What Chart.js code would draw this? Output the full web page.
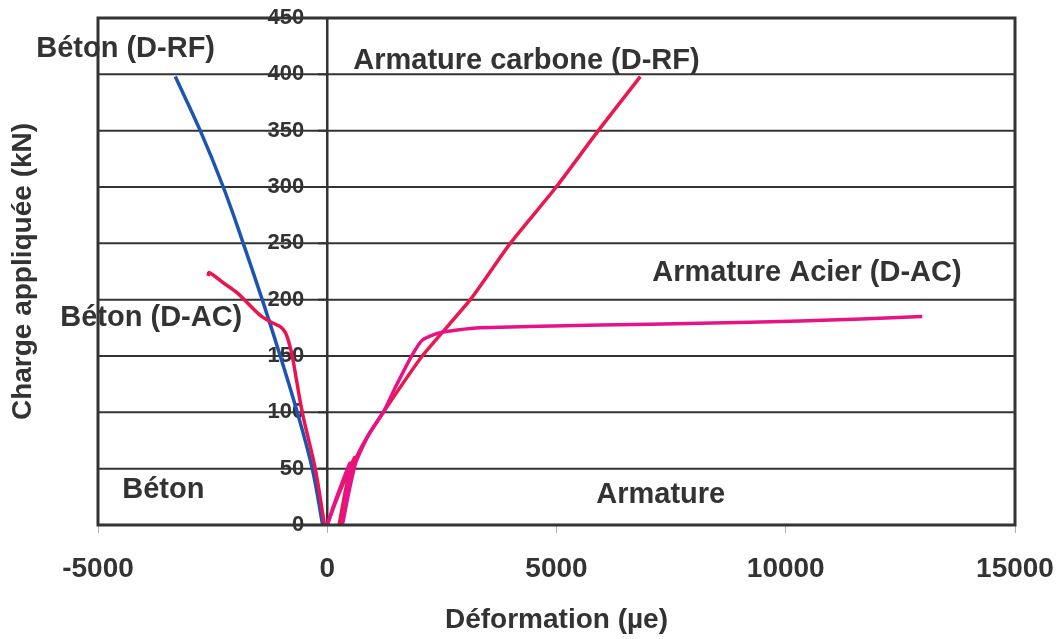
<!DOCTYPE html>
<html lang="fr">
<head>
    <meta charset="UTF-8">
    <title>Charge - Déformation</title>
    <script src="https://cdn.jsdelivr.net/npm/chart.js"></script>
    <style>
        body { margin: 0; background: #fff; }
        .chart-box { width: 1062px; height: 639px; }
    </style>
</head>
<body>
    <div class="chart-box">
        <canvas id="strainChart"></canvas>
    </div>

    <script>
        // Béton (D-RF) - jauge sur le béton, poutre renforcée carbone
        const betonRfX = [-100, -327, -654, -1025, -1418, -1832, -2268, -2770, -3315];
        const betonRfY = [0, 50, 100, 150, 200, 250, 300, 350, 398];

        // Béton (D-AC)
        const betonAcX = [-60, -262, -545, -763, -850, -916, -1025, -1178, -1461, -1963, -2270, -2574, -2600];
        const betonAcY = [0, 50, 100, 150, 164, 171, 176, 179, 186, 206, 215, 224, 221];

        // Armature carbone (D-RF)
        const carboneX = [0, 180, 380, 600, 420, 260, 420, 620, 829, 1221, 2072, 3119, 3991, 4994, 5911, 6827];
        const carboneY = [0, 20, 40, 60, 35, 0, 30, 58, 75, 100, 150, 200, 250, 300, 350, 398];

        // Armature acier (D-AC)
        const acierX = [0, 120, 300, 500, 420, 330, 450, 620, 900, 1221, 1483, 1854, 2072, 2399, 2835, 3337, 5954, 8135, 10316, 12977];
        const acierY = [0, 15, 35, 55, 30, 0, 25, 55, 80, 100, 122, 151, 164, 170, 173, 175, 177.5, 179, 181, 185];

        const xTicks = [-5000, 0, 5000, 10000, 15000];
        const yTicks = [0, 50, 100, 150, 200, 250, 300, 350, 400, 450];

        const noteTexts = ['Béton (D-RF)', 'Armature carbone (D-RF)', 'Armature Acier (D-AC)', 'Béton (D-AC)', 'Béton', 'Armature'];
        const noteX = [-6347, 567, 7088, -5823, -4471, 5867];
        const noteY = [422.5, 412, 223.7, 183.7, 31, 26.6];

        const FONT = "'Liberation Sans', Arial, sans-serif";
        const INK = '#333333';

        function toPoints(xs, ys) {
            return xs.map((x, i) => ({ x: x, y: ys[i] }));
        }

        function line(points, color, width, tension) {
            return {
                data: points,
                showLine: true,
                borderColor: color,
                backgroundColor: color,
                borderWidth: width,
                pointRadius: 0,
                tension: tension,
                fill: false
            };
        }

        // grille horizontale, axe vertical à 0 et étiquettes de l'axe Y
        const axisPlugin = {
            id: 'axisAtZero',
            beforeDatasetsDraw(chart) {
                const { ctx, chartArea, scales } = chart;
                const x0 = scales.x.getPixelForValue(0);
                ctx.save();
                ctx.fillStyle = INK;
                ctx.font = 'bold 22px ' + FONT;
                ctx.textAlign = 'right';
                ctx.textBaseline = 'middle';
                yTicks.forEach(v => {
                    const py = scales.y.getPixelForValue(v);
                    ctx.fillText(String(v), x0 - 23, py);
                });
                ctx.strokeStyle = INK;
                ctx.lineWidth = 2;
                yTicks.forEach(v => {
                    const py = scales.y.getPixelForValue(v);
                    ctx.beginPath();
                    ctx.moveTo(chartArea.left, py);
                    ctx.lineTo(chartArea.right, py);
                    ctx.stroke();
                    ctx.beginPath();
                    ctx.moveTo(x0 - 9, py);
                    ctx.lineTo(x0, py);
                    ctx.stroke();
                });
                ctx.lineWidth = 2.5;
                ctx.beginPath();
                ctx.moveTo(x0, chartArea.top);
                ctx.lineTo(x0, chartArea.bottom);
                ctx.stroke();
                ctx.restore();
            },
            afterDatasetsDraw(chart) {
                const { ctx, scales } = chart;
                ctx.save();
                ctx.fillStyle = INK;
                ctx.font = 'bold 29px ' + FONT;
                ctx.textAlign = 'left';
                ctx.textBaseline = 'middle';
                noteTexts.forEach((t, i) => {
                    ctx.fillText(t, scales.x.getPixelForValue(noteX[i]), scales.y.getPixelForValue(noteY[i]));
                });
                ctx.restore();
            },
            afterDraw(chart) {
                const { ctx, chartArea } = chart;
                ctx.save();
                ctx.strokeStyle = INK;
                ctx.lineWidth = 3;
                ctx.strokeRect(chartArea.left, chartArea.top, chartArea.right - chartArea.left, chartArea.bottom - chartArea.top);
                ctx.restore();
            }
        };

        const ctx = document.getElementById('strainChart').getContext('2d');
        new Chart(ctx, {
            type: 'scatter',
            data: {
                datasets: [
                    line(toPoints(acierX, acierY), 'rgb(232, 18, 135)', 3.5, 0.2),
                    line(toPoints(carboneX, carboneY), 'rgb(233, 24, 78)', 3.5, 0.2),
                    line(toPoints(betonAcX, betonAcY), 'rgb(233, 20, 82)', 3.5, 0.3),
                    line(toPoints(betonRfX, betonRfY), 'rgb(28, 84, 178)', 3.5, 0.4)
                ]
            },
            options: {
                responsive: true,
                maintainAspectRatio: false,
                animation: false,
                layout: { padding: { top: 18, right: 47, left: 0, bottom: 0 } },
                plugins: {
                    legend: { display: false },
                    tooltip: { enabled: false }
                },
                scales: {
                    x: {
                        type: 'linear',
                        min: -5000,
                        max: 15000,
                        afterBuildTicks: scale => { scale.ticks = xTicks.map(v => ({ value: v })); },
                        afterFit: scale => {
                            scale.height = 114;
                            scale.paddingLeft = 0;
                            scale.paddingRight = 0;
                        },
                        grid: {
                            drawOnChartArea: false,
                            drawTicks: true,
                            tickLength: 8,
                            tickColor: '#b0b0b0',
                            color: 'transparent'
                        },
                        border: { display: false },
                        ticks: {
                            padding: 19,
                            color: INK,
                            font: { family: FONT, size: 28, weight: 'bold' },
                            callback: v => String(v)
                        },
                        title: {
                            display: true,
                            text: 'Déformation (µe)',
                            color: INK,
                            font: { family: FONT, size: 28, weight: 'bold' },
                            padding: { top: 0, bottom: 2 }
                        }
                    },
                    y: {
                        type: 'linear',
                        min: 0,
                        max: 450,
                        afterBuildTicks: scale => { scale.ticks = yTicks.map(v => ({ value: v })); },
                        afterFit: scale => { scale.width = 98; },
                        grid: { display: false },
                        border: { display: false },
                        ticks: { display: false },
                        title: {
                            display: true,
                            text: 'Charge appliquée (kN)',
                            color: INK,
                            font: { family: FONT, size: 28, weight: 'bold' },
                            padding: { top: 6, bottom: 0 }
                        }
                    }
                }
            },
            plugins: [axisPlugin]
        });
    </script>
</body>
</html>
